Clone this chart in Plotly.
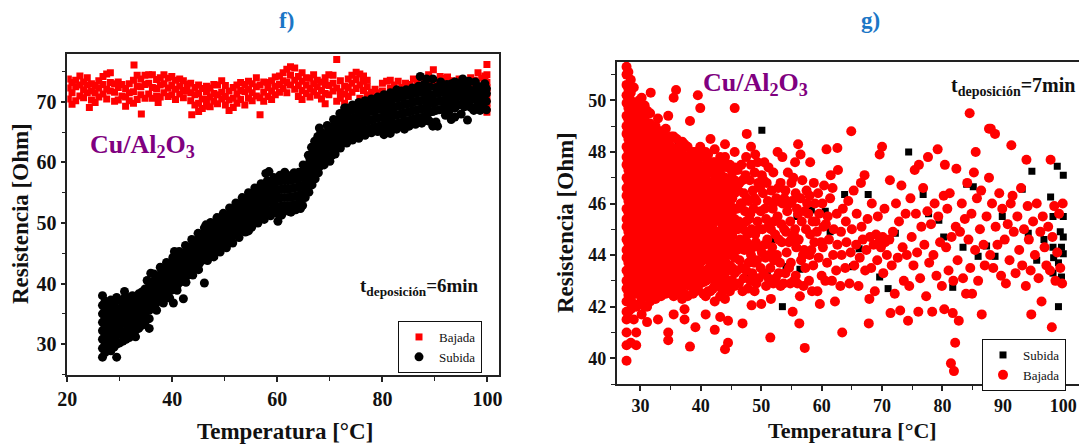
import plotly.graph_objects as go

# ---------------- panel f) : t_deposicion = 6 min ----------------
# (temperature, [resistances...]) columns
f_bajada_cols = [
    (20.2, [70.5, 72.3, 73.8]), (20.9, [69.6, 71.5, 73.2]), (21.6, [70.2, 72.5, 73.6]),
    (22.4, [71.0, 72.8, 74.3]), (23.1, [70.7, 72.0, 73.3]), (23.8, [71.5, 72.8, 74.0]),
    (24.2, [69.1]), (24.6, [70.3, 71.8, 73.0]), (25.3, [69.9, 71.5, 72.7]),
    (26.0, [70.8, 72.3, 73.5]), (26.8, [71.3, 72.9, 74.2]), (27.5, [70.5, 72.1, 74.6]),
    (28.2, [71.8, 73.2, 74.8]), (29.0, [70.1, 71.6, 73.0]), (29.7, [70.3, 72.4, 73.3]),
    (30.4, [71.0, 72.9]), (31.1, [69.3, 70.8, 72.2]), (31.8, [70.2, 71.5, 73.0]),
    (32.6, [69.8, 71.7, 73.6]), (32.7, [76.1]), (33.3, [70.4, 72.6, 74.4]),
    (34.0, [71.2, 72.5, 73.8]), (34.1, [68.0]), (34.8, [70.6, 72.9, 74.4]),
    (35.5, [71.3, 73.1, 74.5]), (36.2, [70.6, 72.4, 74.5]), (37.0, [71.0, 72.2, 73.7]),
    (37.3, [69.9]), (37.7, [70.8, 72.8, 74.0]), (38.4, [71.5, 73.0, 74.5]),
    (39.2, [70.9, 72.3, 73.9]), (39.9, [71.2, 72.7, 74.2]), (40.6, [70.4, 72.1, 73.6]),
    (41.4, [71.3, 72.6, 73.8]), (42.1, [70.7, 71.9, 73.5]), (42.8, [71.8, 72.9]),
    (43.5, [70.2, 71.5, 73.1]), (43.7, [67.9]), (44.3, [69.5, 71.2, 72.4]),
    (45.0, [68.4, 69.8, 71.4, 72.8]), (45.7, [68.9, 70.5, 72.2]), (46.5, [69.3, 70.4, 71.7, 72.6]),
    (47.2, [69.2, 70.8, 72.3]), (47.9, [70.1, 71.4, 72.9]), (48.6, [69.7, 71.2, 72.8]),
    (49.4, [70.5, 71.6, 73.5]), (50.1, [69.5, 70.9, 72.7]), (50.8, [68.6, 70.3, 71.8]),
    (51.6, [69.1, 70.6, 72.4]), (52.3, [69.8, 71.3, 72.8]), (53.0, [70.4, 71.9, 73.2]),
    (53.8, [69.5, 71.7, 72.9]), (54.5, [70.6, 72.1, 73.4]), (55.2, [70.2, 71.5, 73.0]),
    (56.0, [71.0, 72.5, 74.0]), (56.7, [67.9, 70.7, 72.8]), (57.4, [70.1, 71.6, 73.3]),
    (58.2, [70.9, 72.4, 73.2]), (58.9, [70.4, 71.8, 73.5]), (59.6, [71.2, 72.6, 74.1]),
    (60.4, [71.6, 72.9, 74.3]), (61.1, [72.2, 73.5, 74.8]), (61.8, [71.5, 73.2, 75.4]),
    (62.5, [72.8, 74.4, 75.8]), (63.3, [72.1, 73.6, 75.6]), (64.0, [70.9, 72.7, 74.2]),
    (64.7, [70.4, 71.9, 73.4, 74.8]), (65.5, [71.4, 72.8, 74.0]), (66.2, [70.8, 72.2, 73.9]),
    (66.9, [71.7, 73.0, 74.5]), (67.6, [71.1, 72.5, 73.6]), (68.4, [70.5, 71.9, 73.3]),
    (69.1, [69.7, 71.4, 72.9, 74.0]), (69.8, [71.2, 72.7, 74.5]), (70.6, [71.8, 73.1, 74.4]),
    (71.3, [70.1, 72.3, 77.0]), (72.0, [70.6, 71.7, 73.5]), (72.8, [69.8, 71.3, 72.6]),
    (73.5, [70.9, 72.4, 73.8]), (74.2, [71.6, 73.1, 74.4]), (75.0, [72.2, 73.7, 74.9]),
    (75.7, [70.6, 72.8, 74.6]), (76.4, [71.9, 73.4, 74.3]), (77.1, [71.2, 72.5, 73.6]),
    (77.9, [70.2, 71.6]), (78.6, [70.8, 72.1]), (79.3, [70.5, 71.5]), (80.0, [71.8, 73.1]),
    (80.8, [70.4, 73.4]), (81.5, [72.2, 73.6]), (82.2, [72.8]), (83.0, [73.4]),
    (83.7, [72.4]), (84.4, [73.1]), (85.2, [72.9]), (85.9, [73.8, 72.3]),
    (86.6, [71.7, 73.3]), (87.3, [72.5, 74.1]), (88.1, [73.6, 72.1]), (88.8, [73.0, 74.5]),
    (89.7, [75.3, 72.8]), (90.3, [73.4, 72.0]), (91.0, [74.2, 71.6]), (91.7, [73.9, 72.6]),
    (92.4, [74.1, 72.9]), (93.2, [73.5, 71.8]), (93.9, [73.0, 72.2]), (94.6, [72.4, 73.8]),
    (95.3, [71.3, 72.9]), (96.1, [73.4, 72.2]), (96.8, [72.8, 74.0]), (97.5, [73.6, 71.4]),
    (98.2, [74.8, 72.5]), (98.9, [73.9, 72.1, 70.5]), (99.5, [71.8, 73.5, 74.3]),
    (99.9, [76.2, 74.5, 73.2, 72.4, 71.5, 70.6, 69.8, 69.0, 68.3]),
]

f_subida_cols = [
    (26.7, [27.85, 29.3, 30.8, 32.2, 33.6, 35.0, 36.4, 38.0]),
    (27.2, [28.6, 30.0, 31.5, 32.9, 34.3, 35.7, 37.1]),
    (27.7, [29.2, 30.6, 32.0, 33.5, 34.9, 36.3]),
    (28.3, [28.9, 30.3, 31.8, 33.2, 34.6, 36.0, 37.3]),
    (28.9, [29.5, 31.0, 32.4, 33.9, 35.3, 36.7]),
    (29.4, [27.85, 30.0, 31.4, 32.8, 34.2, 35.6, 37.7]),
    (30.0, [30.2, 31.7, 33.1, 34.5, 35.9, 37.2]),
    (30.6, [30.5, 31.9, 33.4, 34.8, 36.2, 37.4]),
    (30.9, [38.7]),
    (31.2, [30.8, 32.2, 33.7, 35.1, 36.5, 37.8]),
    (31.8, [31.1, 32.5, 33.9, 35.3, 36.7, 37.6]),
    (32.4, [31.4, 32.9, 34.3, 35.7, 37.1, 38.0]),
    (33.0, [31.2, 32.3, 33.6, 35.0, 36.4, 37.8]),
    (33.6, [32.6, 34.0, 35.4, 36.8, 38.3]),
    (34.2, [33.1, 34.5, 35.9, 37.3, 38.6]),
    (34.8, [33.6, 35.0, 36.4, 37.8, 39.1]),
    (35.2, [40.5]),
    (35.6, [32.6, 34.2, 35.6, 37.0, 38.4, 39.5]),
    (35.9, [41.7]),
    (36.2, [36.0, 37.4, 38.8, 40.2]),
    (36.8, [36.6, 38.0, 39.4, 40.8]),
    (37.4, [37.1, 38.5, 39.9, 41.3]),
    (38.0, [37.6, 39.0, 40.4, 41.8, 42.3]),
    (38.6, [38.0, 39.4, 40.8, 42.2]),
    (39.2, [38.5, 39.9, 41.3, 42.7]),
    (39.8, [38.9, 40.3, 41.7, 43.1]),
    (40.2, [36.8]),
    (40.4, [39.4, 40.8, 42.2, 43.6, 45.3]),
    (41.0, [39.8, 41.2, 42.6, 44.0]),
    (41.6, [40.3, 41.7, 43.1, 44.5]),
    (42.1, [37.5]),
    (42.2, [40.8, 42.2, 43.6, 45.0]),
    (42.8, [41.3, 42.7, 44.1, 45.5]),
    (43.4, [41.8, 43.2, 44.6, 46.0]),
    (44.0, [42.3, 43.7, 45.1, 46.5]),
    (44.6, [42.8, 44.2, 45.6, 47.0]),
    (45.2, [43.4, 44.8, 46.2, 47.6]),
    (45.8, [43.9, 45.3, 46.7, 48.1]),
    (46.1, [40.1]),
    (46.4, [44.3, 45.7, 47.1, 48.5, 49.7]),
    (47.0, [44.7, 46.1, 47.5, 48.9]),
    (47.6, [45.1, 46.5, 47.9, 49.3]),
    (48.2, [45.5, 46.9, 48.3, 49.7]),
    (48.8, [46.0, 47.4, 48.8, 50.2]),
    (49.4, [46.4, 47.8, 49.2, 50.6]),
    (50.0, [46.7, 48.1, 49.5, 50.9]),
    (50.6, [47.1, 48.5, 49.9, 51.3]),
    (51.2, [47.6, 49.0, 50.4, 51.8]),
    (51.8, [48.0, 49.4, 50.8, 52.2]),
    (52.4, [48.4, 49.8, 51.2, 52.6]),
    (53.0, [48.9, 50.3, 51.7, 53.1]),
    (53.6, [49.3, 50.7, 52.1, 53.5]),
    (54.2, [49.7, 51.1, 52.5, 53.9]),
    (54.5, [48.7]),
    (54.8, [50.1, 51.5, 52.9, 54.3]),
    (55.4, [50.5, 51.9, 53.3, 54.7]),
    (56.0, [50.8, 52.2, 53.6, 55.0]),
    (56.6, [51.1, 52.5, 53.9, 55.3]),
    (57.2, [51.4, 52.8, 54.2, 55.6]),
    (57.8, [51.7, 53.1, 54.5, 55.9, 58.2]),
    (58.4, [52.0, 53.4, 54.8, 56.2, 58.5]),
    (59.0, [52.2, 53.6, 55.0, 56.4]),
    (59.6, [52.5, 53.9, 55.3, 56.7]),
    (60.1, [50.3]),
    (60.2, [52.7, 54.1, 55.5, 56.9]),
    (60.8, [51.3, 52.8, 54.2, 55.6, 57.0]),
    (61.4, [52.8, 54.2, 55.6, 57.0, 58.4]),
    (62.0, [52.8, 54.2, 55.6, 57.0]),
    (62.6, [51.8, 52.9, 54.3, 55.7, 57.1]),
    (63.2, [52.2, 53.0, 54.4, 55.8, 57.2, 58.3]),
    (63.8, [53.1, 54.5, 55.9, 57.3]),
    (64.4, [53.3, 54.7, 56.1, 57.5]),
    (64.8, [52.9, 54.7, 56.1, 57.5, 58.5]),
    (65.6, [55.3, 56.7, 58.1, 59.5]),
    (66.2, [56.2, 57.6, 59.0, 60.4]),
    (66.8, [57.4, 58.8, 60.2, 61.6]),
    (67.4, [58.4, 59.8, 61.2, 62.6]),
    (68.0, [59.3, 60.7, 62.1, 63.5, 65.7]),
    (68.6, [60.0, 61.4, 62.8, 64.2]),
    (69.2, [60.6, 62.0, 63.4, 64.8]),
    (69.8, [61.1, 62.5, 63.9, 65.3]),
    (70.4, [61.2, 63.0, 64.4, 65.8]),
    (71.0, [62.3, 63.7, 65.1, 66.5]),
    (71.6, [62.8, 64.2, 65.6, 67.0]),
    (72.2, [63.3, 64.7, 66.1, 67.5]),
    (72.8, [63.7, 65.1, 66.5, 67.9, 69.0]),
    (73.4, [64.1, 65.5, 66.9, 68.3]),
    (74.0, [64.4, 65.8, 67.2, 68.6]),
    (74.6, [64.6, 66.0, 67.4, 68.8]),
    (75.2, [64.8, 66.2, 67.6, 69.0]),
    (75.8, [65.0, 66.4, 67.8, 69.2]),
    (76.4, [65.2, 66.6, 68.0, 69.3]),
    (77.0, [65.4, 66.8, 68.2, 69.5]),
    (77.6, [65.6, 67.0, 68.4, 69.6]),
    (78.2, [65.7, 67.1, 68.5, 69.8]),
    (78.8, [65.9, 67.3, 68.7, 70.0]),
    (79.4, [66.0, 67.4, 68.8, 70.1, 70.4]),
    (80.0, [66.1, 67.5, 68.9, 70.2]),
    (80.6, [65.2, 66.6, 68.0, 69.4, 70.6]),
    (81.2, [65.5, 66.8, 68.2, 69.6, 70.8]),
    (81.8, [66.2, 67.6, 69.0, 70.4]),
    (82.4, [66.4, 67.8, 69.2, 70.6, 71.5]),
    (83.0, [66.5, 67.9, 69.3, 70.7]),
    (83.6, [66.6, 68.0, 69.4, 70.8, 71.8]),
    (84.2, [65.5, 66.8, 68.2, 69.6, 71.0]),
    (84.8, [66.9, 68.3, 69.7, 71.1]),
    (85.4, [67.0, 68.4, 69.8, 71.2]),
    (86.0, [67.2, 68.6, 70.0, 71.4]),
    (86.6, [67.3, 68.7, 70.1, 71.5, 72.1]),
    (87.2, [67.4, 68.8, 70.2, 71.6, 74.2]),
    (87.8, [67.5, 68.9, 70.3, 71.7, 72.8]),
    (88.4, [67.7, 69.1, 70.5, 71.9, 73.8]),
    (89.0, [66.8, 68.3, 69.7, 71.1, 72.5]),
    (89.6, [66.0, 68.4, 69.8, 71.2, 73.8]),
    (90.2, [66.7, 68.6, 70.0, 71.4, 72.4]),
    (90.8, [68.7, 70.1, 71.5]),
    (91.4, [68.8, 70.2, 71.6, 72.6]),
    (92.0, [67.8, 69.0, 70.4, 71.8]),
    (92.6, [68.2, 69.4, 70.8, 72.1]),
    (93.2, [69.3, 70.6, 72.0, 73.0]),
    (93.8, [67.5, 69.0, 70.4, 71.8, 73.3]),
    (94.4, [69.5, 70.9, 72.3]),
    (95.0, [68.0, 69.6, 71.0, 72.4]),
    (95.6, [69.2, 70.6, 71.8, 73.3]),
    (96.2, [67.0, 69.7, 71.1, 72.5]),
    (96.8, [69.1, 70.3, 71.7]),
    (97.4, [68.6, 70.5, 71.9]),
    (98.0, [69.3, 70.6, 71.8, 72.6]),
    (98.6, [68.6, 70.0, 71.4, 72.5]),
    (99.2, [69.1, 70.5, 71.8]),
    (99.8, [68.7, 70.1, 71.4, 72.2]),
]

# ragged points along the lower and upper edges of the "Subida" band
f_subida_edges = [
    (37.0, 35.6), (38.3, 36.8), (39.5, 37.6), (40.9, 38.9), (42.6, 40.2), (43.9, 41.4),
    (45.0, 42.3), (46.7, 43.8), (47.9, 44.4), (49.1, 45.2), (50.3, 45.9), (51.5, 46.7),
    (52.7, 47.6), (53.9, 48.5), (55.1, 49.3), (56.3, 50.0), (57.5, 50.6), (58.7, 51.2),
    (59.9, 51.6), (61.1, 51.8), (62.3, 51.9), (63.5, 52.2), (64.4, 52.4), (65.3, 54.2),
    (66.0, 55.1), (66.6, 56.3), (67.2, 57.3), (67.8, 58.3), (68.9, 59.6), (70.0, 60.2),
    (71.0, 61.4), (72.0, 62.4), (73.2, 63.2), (74.3, 63.7), (75.5, 64.0), (76.7, 64.5),
    (77.9, 64.9), (79.1, 65.1), (80.3, 64.6), (81.5, 64.8), (82.7, 65.5), (83.9, 65.8),
    (85.1, 66.0), (86.3, 66.3), (87.5, 66.5), (88.7, 66.9), (90.5, 66.0), (93.1, 67.1),
    (36.5, 41.6), (37.7, 42.7), (38.9, 43.5), (40.1, 44.3), (41.3, 45.3), (42.5, 46.3),
    (43.7, 47.3), (44.9, 48.3), (46.1, 49.2), (47.3, 50.1), (48.5, 50.9), (49.7, 51.6),
    (50.9, 52.5), (52.1, 53.3), (53.3, 54.2), (54.5, 55.0), (55.7, 55.8), (56.9, 56.5),
    (58.1, 57.0), (59.3, 57.5), (60.5, 57.9), (61.7, 58.0), (62.9, 58.0), (64.1, 58.4),
    (64.9, 59.6), (65.9, 61.2), (66.5, 62.5), (67.1, 63.5), (67.7, 64.3), (68.3, 65.0),
    (69.5, 66.1), (70.7, 67.1), (71.9, 68.1), (73.1, 69.0), (74.3, 69.5), (75.5, 69.9),
    (76.7, 70.2), (77.9, 70.5), (79.1, 70.8), (80.3, 71.2), (81.5, 71.5), (82.7, 72.0),
    (84.5, 72.0), (85.7, 72.3), (86.9, 72.6), (88.1, 72.8), (91.1, 73.3), (92.3, 72.9),
    (94.1, 73.1), (95.3, 73.8), (96.5, 73.4), (97.7, 73.3), (99.5, 73.0),
]

# ---------------- panel g) : t_deposicion = 7 min ----------------
g_bajada_cols = [
    (27.7, [39.9, 40.5, 41.0, 41.5, 41.8, 42.2, 42.7, 43.0, 43.4, 43.9, 44.2, 44.6, 45.1, 45.4, 45.8,
            46.3, 46.6, 47.0, 47.5, 47.8, 48.2, 48.7, 49.0, 49.4, 49.9, 50.2, 50.6, 51.0, 51.3]),
    (28.0, [41.8, 42.45, 42.9, 43.25, 43.7, 44.1, 44.45, 44.9, 45.3, 45.65, 46.1, 46.5, 46.85, 47.3,
            47.7, 48.05, 48.5, 48.9, 49.25, 49.7, 50.1, 50.45, 51.1]),
    (28.4, [40.6, 41.9, 42.3, 42.8, 43.1, 43.5, 44.0, 44.3, 44.7, 45.2, 45.5, 45.9, 46.4, 46.7, 47.1,
            47.6, 47.9, 48.3, 48.8, 49.1, 49.5, 50.0, 50.3, 50.8]),
    (28.9, [41.5, 42.1, 42.55, 42.95, 43.4, 43.8, 44.2, 44.6, 45.0, 45.4, 45.8, 46.2, 46.6, 47.0, 47.4,
            47.8, 48.2, 48.6, 49.0, 49.4, 49.8, 50.5]),
    (29.3, [40.5, 41.0, 42.0, 42.5, 42.8, 43.2, 43.7, 44.0, 44.4, 44.9, 45.2, 45.6, 46.1, 46.4, 46.8,
            47.3, 47.6, 48.0, 48.5, 48.8, 49.2, 49.7]),
    (29.8, [42.1, 42.7, 43.0, 43.45, 43.9, 44.25, 44.65, 45.05, 45.45, 45.85, 46.25, 46.6, 47.0, 47.45,
            47.85, 48.2, 48.65, 49.05, 49.45, 50.0]),
    (30.2, [41.7, 42.3, 42.6, 43.1, 43.5, 43.8, 44.3, 44.7, 45.0, 45.5, 45.9, 46.2, 46.7, 47.1, 47.4,
            47.9, 48.3, 48.6, 49.1, 49.7, 50.1]),
    (30.7, [42.0, 42.45, 42.85, 43.3, 43.7, 44.05, 44.5, 44.85, 45.25, 45.7, 46.05, 46.45, 46.9, 47.25,
            47.65, 48.1, 48.45, 48.85, 49.3, 49.8]),
    (31.1, [41.4, 42.0, 42.5, 42.9, 43.2, 43.7, 44.1, 44.4, 44.9, 45.3, 45.6, 46.1, 46.5, 46.8, 47.3,
            47.7, 48.0, 48.5, 48.9, 49.6]),
    (31.6, [42.2, 42.7, 43.05, 43.45, 43.9, 44.3, 44.65, 45.1, 45.45, 45.85, 46.3, 46.65, 47.05, 47.5,
            47.85, 48.25, 48.7, 49.1, 49.5]),
    (31.7, [50.3]),
    (32.0, [42.4, 42.8, 43.3, 43.6, 44.0, 44.5, 44.8, 45.2, 45.7, 46.0, 46.4, 46.9, 47.2, 47.6, 48.1,
            48.4, 48.9]),
    (32.5, [42.3, 42.6, 43.1, 43.5, 43.9, 44.3, 44.7, 45.1, 45.5, 45.9, 46.3, 46.7, 47.1, 47.5, 47.9,
            48.3, 48.7, 49.0]),
    (32.9, [41.5, 42.6, 42.9, 43.4, 43.8, 44.1, 44.6, 45.0, 45.3, 45.8, 46.2, 46.5, 47.0, 47.4, 47.7,
            48.2, 48.6, 49.3]),
    (33.4, [42.4, 42.75, 43.15, 43.55, 43.95, 44.35, 44.75, 45.15, 45.55, 45.95, 46.35, 46.75, 47.15,
            47.55, 47.95, 48.35, 48.8]),
    (33.8, [42.5, 43.0, 43.3, 43.7, 44.2, 44.5, 44.9, 45.4, 45.7, 46.1, 46.6, 46.9, 47.3, 47.8, 48.1, 48.6]),
    (34.2, [42.5, 42.9, 43.35, 43.75, 44.1, 44.55, 44.95, 45.3, 45.75, 46.15, 46.5, 46.95, 47.35, 47.7,
            48.15, 48.55, 48.9]),
    (34.6, [40.7, 41.0, 42.7, 43.1, 43.6, 43.9, 44.3, 44.8, 45.1, 45.5, 46.0, 46.3, 46.7, 47.2, 47.5,
            47.9, 48.4, 49.4]),
    (35.1, [42.6, 43.0, 43.4, 43.8, 44.25, 44.6, 45.0, 45.45, 45.8, 46.2, 46.65, 47.0, 47.4, 47.85,
            48.2, 48.6]),
    (35.5, [41.7, 42.4, 42.9, 43.2, 43.6, 44.1, 44.4, 44.8, 45.3, 45.6, 46.0, 46.5, 46.8, 47.2, 47.7,
            48.0, 48.6, 50.1]),
    (35.9, [50.4]),
    (36.0, [42.5, 42.8, 43.25, 43.65, 44.0, 44.45, 44.85, 45.2, 45.65, 46.05, 46.4, 46.85, 47.25, 47.6,
            48.05, 48.5]),
    (36.4, [42.6, 43.0, 43.5, 43.8, 44.2, 44.7, 45.0, 45.4, 45.9, 46.2, 46.6, 47.1, 47.4, 47.9, 48.2]),
    (36.9, [42.3, 42.75, 43.1, 43.55, 43.95, 44.3, 44.75, 45.15, 45.5, 45.95, 46.35, 46.7, 47.15, 47.55,
            47.95, 48.4]),
    (37.3, [41.5, 41.9, 42.5, 42.9, 43.3, 43.7, 44.2, 44.5, 44.9, 45.4, 45.7, 46.1, 46.6, 46.9, 47.3,
            47.8, 48.3]),
    (37.8, [42.4, 42.95, 43.35, 43.75, 44.15, 44.55, 44.95, 45.35, 45.75, 46.15, 46.55, 46.95, 47.35,
            47.75, 48.2]),
    (38.2, [40.45, 42.8, 43.1, 43.5, 44.0, 44.3, 44.7, 45.2, 45.5, 45.9, 46.4, 46.7, 47.1, 47.6, 47.9, 49.2]),
    (38.7, [42.5, 42.9, 43.3, 43.7, 44.1, 44.5, 44.9, 45.3, 45.7, 46.1, 46.5, 46.9, 47.3, 47.7, 48.0]),
    (39.1, [41.2, 42.6, 43.0, 43.4, 43.9, 44.2, 44.6, 45.1, 45.4, 45.8, 46.3, 46.6, 47.0, 47.5, 48.0]),
    (39.5, [42.7, 43.15, 43.55, 43.95, 44.35, 44.75, 45.15, 45.55, 45.95, 46.35, 46.75, 47.15, 47.55,
            47.9, 50.2]),
    (39.9, [42.9, 43.3, 43.7, 44.1, 44.6, 44.9, 45.3, 45.8, 46.1, 46.5, 47.0, 47.3, 47.8, 48.2, 49.7]),
    (40.4, [42.5, 42.95, 43.35, 43.8, 44.2, 44.6, 45.0, 45.4, 45.85, 46.25, 46.65, 47.05, 47.45, 47.8]),
    (40.8, [41.7, 42.4, 43.0, 43.4, 43.9, 44.3, 44.7, 45.2, 45.6, 46.1, 46.5, 47.0, 47.4, 48.0]),
    (41.2, [42.6, 43.05, 43.45, 43.85, 44.3, 44.75, 45.15, 45.55, 45.95, 46.35, 46.75, 47.2, 47.6, 47.9]),
    (41.6, [42.6, 43.2, 43.6, 44.1, 44.6, 45.0, 45.5, 45.9, 46.4, 46.8, 47.3, 48.5]),
    (42.0, [42.7, 43.1, 43.5, 43.9, 44.35, 44.8, 45.2, 45.6, 46.0, 46.45, 46.85, 47.25, 47.6]),
    (42.3, [41.1, 42.2, 42.8, 43.3, 43.8, 44.2, 44.7, 45.3, 45.7, 46.2, 46.6, 47.1, 47.6, 48.1]),
    (42.8, [42.8, 43.2, 43.6, 44.05, 44.45, 44.9, 45.5, 45.95, 46.4, 46.8, 47.5]),
    (43.2, [41.6, 42.4, 42.9, 43.5, 44.0, 44.5, 44.9, 45.4, 45.9, 46.3, 46.9, 47.3, 47.8]),
    (43.6, [42.6, 43.1, 43.7, 44.2, 44.7, 45.15, 45.6, 46.1, 46.6, 47.05, 47.6]),
    (44.0, [40.35, 42.3, 42.7, 43.3, 43.8, 44.3, 44.8, 45.2, 45.6, 46.2, 46.7, 47.0, 47.8, 48.3]),
    (44.4, [42.9, 43.4, 44.0, 44.55, 45.0, 45.45, 45.9, 46.45, 46.95, 47.4]),
    (44.5, [40.6, 41.45]),
    (44.8, [42.6, 43.0, 43.6, 44.1, 44.5, 45.0, 45.5, 46.0, 46.5, 46.9, 47.5]),
    (45.2, [43.0, 43.5, 44.2, 44.75, 45.25, 45.7, 46.2, 46.7, 47.2]),
    (45.6, [42.8, 43.3, 43.9, 44.4, 45.0, 45.4, 45.8, 46.4, 46.9, 47.4, 48.0, 49.7]),
]

g_bajada_pts = [
    (46.3, 42.9), (46.4, 43.8), (46.5, 44.6), (46.3, 45.3), (46.6, 46.0), (46.4, 46.8), (46.7, 47.5),
    (46.9, 41.35), (47.1, 43.1), (47.2, 44.2), (47.0, 45.0), (47.3, 45.7), (47.1, 46.4), (47.4, 47.1),
    (47.6, 48.7), (47.8, 42.7), (47.9, 43.7), (47.7, 44.8), (48.0, 45.4), (47.9, 46.1), (48.1, 46.9),
    (48.3, 48.2), (48.5, 43.3), (48.6, 44.3), (48.4, 45.0), (48.7, 45.8), (48.6, 46.5), (48.9, 47.2),
    (48.4, 42.05), (49.2, 42.9), (49.3, 43.8), (49.1, 44.5), (49.4, 45.3), (49.2, 46.1), (49.5, 46.8),
    (49.4, 47.6), (50.0, 42.1), (49.9, 43.5), (50.1, 44.1), (50.2, 45.0), (49.9, 45.7), (50.3, 46.4),
    (50.1, 47.1), (50.8, 42.8), (50.7, 43.9), (51.0, 44.6), (50.8, 45.4), (51.1, 46.1), (50.9, 46.8),
    (51.6, 42.3), (51.5, 40.8), (51.5, 43.5), (51.8, 44.3), (51.6, 45.0), (51.9, 45.8), (51.7, 46.5),
    (52.0, 47.2), (52.4, 43.1), (52.6, 44.0), (52.3, 44.8), (52.7, 45.5), (52.5, 46.2), (52.7, 48.0),
    (53.2, 42.8), (53.1, 43.7), (53.4, 44.5), (53.3, 45.2), (53.5, 46.0), (53.2, 46.8), (53.5, 47.8),
    (54.0, 43.3), (54.2, 44.1), (54.1, 44.9), (54.3, 45.7), (54.0, 46.5), (54.4, 47.2), (54.8, 42.9),
    (54.9, 43.7), (55.0, 44.6), (54.8, 45.3), (55.1, 46.1), (55.0, 46.8), (55.2, 41.8), (55.6, 47.6),
    (55.7, 43.2), (55.8, 44.3), (55.6, 45.0), (55.9, 45.8), (55.7, 46.4), (56.1, 48.3), (56.5, 47.9),
    (56.3, 41.35), (56.4, 42.4), (56.6, 43.8), (56.2, 44.6), (56.7, 45.3), (56.5, 46.2), (56.8, 46.9),
    (57.2, 40.4), (57.0, 42.8), (57.3, 43.5), (57.1, 44.2), (57.4, 45.0), (57.2, 45.7), (57.5, 46.5),
    (57.9, 43.0), (58.0, 44.0), (58.1, 44.8), (57.8, 45.6), (58.1, 47.6), (58.0, 46.3), (58.6, 43.6),
    (58.8, 44.5), (58.5, 45.3), (58.9, 46.0), (58.7, 46.8), (59.3, 42.6), (59.5, 43.9), (59.2, 44.9),
    (59.6, 45.6), (59.4, 46.4), (59.7, 42.1), (60.0, 43.2), (60.2, 44.3), (60.3, 45.1), (60.1, 46.0),
    (60.4, 46.7), (60.8, 48.1), (60.9, 43.7), (61.2, 44.6), (61.0, 45.5), (61.4, 46.2), (61.7, 43.0),
    (61.9, 44.0), (62.0, 45.0), (61.8, 46.6), (62.2, 42.2), (62.4, 43.4), (62.6, 44.4), (62.5, 45.6),
    (62.6, 48.15), (62.7, 47.3), (63.1, 42.8), (63.3, 44.0), (63.2, 44.9), (63.4, 41.0), (63.5, 45.8),
    (63.9, 43.5), (64.1, 44.5), (64.0, 45.3), (64.4, 46.1), (64.6, 42.9), (64.8, 44.1), (64.9, 48.8),
    (65.0, 45.0), (65.3, 46.5), (65.4, 43.6), (65.7, 44.4), (65.8, 45.6), (66.1, 42.8), (66.3, 43.9),
    (66.6, 45.1), (66.5, 46.8), (66.8, 44.6), (67.1, 47.1), (67.2, 43.4), (67.4, 44.2), (67.8, 41.35),
    (67.6, 45.4), (67.9, 42.3), (68.0, 44.7), (68.2, 43.5), (68.3, 46.0), (68.6, 44.4), (68.8, 42.6),
    (69.0, 44.8), (69.2, 43.8), (69.3, 45.5), (69.6, 47.9), (69.5, 44.5), (69.8, 44.3), (70.0, 48.2),
    (70.1, 44.7), (70.2, 43.3), (70.4, 45.8), (70.5, 44.5), (70.8, 44.0), (71.2, 44.6), (71.4, 41.75),
    (71.3, 46.9), (71.6, 43.6), (71.8, 44.9), (72.1, 42.5), (72.3, 46.0), (72.6, 43.9), (72.8, 45.3),
    (73.0, 41.85), (73.2, 46.7), (73.4, 44.3), (73.6, 43.0), (73.9, 45.6), (74.1, 44.0), (74.3, 41.45),
    (74.5, 42.8), (74.7, 46.2), (74.9, 44.7), (75.2, 43.6), (75.4, 47.3), (75.6, 45.6), (75.8, 44.1),
    (76.0, 41.8), (76.1, 47.5), (76.3, 43.1), (76.5, 45.1), (76.8, 46.6), (77.0, 44.4), (77.3, 42.4),
    (77.6, 47.8), (77.5, 45.7), (77.8, 43.7), (78.1, 45.2), (78.3, 41.8), (78.5, 44.0), (78.7, 46.0),
    (79.0, 43.2), (79.2, 48.1), (79.3, 45.5), (79.6, 44.5), (79.9, 42.8), (80.3, 41.9), (80.4, 47.5),
    (80.2, 46.3), (80.6, 44.3), (80.8, 45.8), (81.0, 43.4), (81.2, 46.4), (81.4, 39.8), (81.5, 44.7),
    (81.7, 41.75), (81.9, 39.5), (81.8, 43.0), (82.1, 40.6), (82.3, 47.35), (82.2, 45.1), (82.5, 43.8),
    (82.7, 41.45), (82.9, 44.9), (83.2, 46.0), (83.4, 43.1), (83.7, 45.4), (83.9, 42.5), (84.1, 46.8),
    (84.3, 44.6), (84.5, 49.5), (84.6, 43.5), (84.8, 45.6), (84.9, 42.5), (85.2, 47.2), (85.5, 48.0),
    (85.4, 44.2), (85.7, 46.2), (85.9, 43.0), (86.2, 45.0), (86.5, 41.7), (86.4, 46.5), (86.8, 44.4),
    (87.0, 43.6), (87.3, 45.5), (87.7, 48.9), (87.7, 47.0), (87.9, 44.0), (88.0, 48.9), (88.2, 46.0),
    (88.4, 43.5), (88.7, 48.7), (88.8, 45.1), (89.1, 44.4), (89.4, 46.4), (89.7, 43.2), (89.9, 45.8),
    (90.3, 44.6), (90.5, 42.9), (90.8, 45.2), (91.1, 43.8), (91.4, 48.26), (91.3, 46.0), (91.6, 46.3),
    (91.8, 44.9), (92.1, 43.3), (92.4, 45.5), (92.7, 44.2), (93.0, 46.6), (93.2, 43.6), (93.5, 45.0),
    (93.9, 47.7), (93.8, 42.8), (94.1, 45.9), (94.3, 44.6), (94.7, 41.7), (94.6, 43.4), (95.0, 45.3),
    (95.3, 44.0), (95.6, 46.0), (95.9, 43.1), (96.2, 44.9), (96.4, 42.2), (96.6, 45.5), (96.9, 44.3),
    (97.2, 43.6), (97.5, 45.1), (97.9, 47.7), (97.8, 43.4), (98.1, 41.2), (98.2, 44.7), (98.5, 45.9),
    (98.7, 43.0), (99.0, 44.1), (99.3, 45.6), (99.5, 43.5), (99.8, 42.9), (99.9, 46.0),
    (46.0, 43.4), (46.0, 44.2), (46.1, 45.0), (46.0, 45.8), (46.2, 46.5), (46.1, 47.3), (46.9, 42.6),
    (46.8, 43.5), (46.9, 44.4), (46.7, 45.2), (46.8, 46.0), (46.9, 46.9), (47.5, 43.4), (47.6, 44.5),
    (47.5, 45.3), (47.6, 46.2), (47.5, 47.8), (48.2, 43.0), (48.3, 44.0), (48.1, 44.9), (48.2, 45.6),
    (48.3, 47.5), (48.9, 42.6), (48.8, 43.7), (49.0, 44.8), (48.9, 46.2), (49.0, 47.9), (49.6, 43.1),
    (49.7, 44.3), (49.6, 45.0), (49.8, 46.6), (50.4, 43.3), (50.5, 44.4), (50.6, 45.8), (50.4, 46.9),
    (50.5, 47.6), (51.2, 43.1), (51.3, 44.0), (51.3, 45.2), (51.2, 47.4), (52.0, 42.9), (52.1, 43.8),
    (52.1, 45.3), (52.0, 46.0), (52.9, 43.3), (52.9, 44.6), (52.8, 46.6), (53.7, 42.9), (53.8, 45.0),
    (53.8, 46.2), (54.6, 43.5), (54.6, 44.5), (54.7, 46.0), (55.4, 43.0), (55.4, 44.8), (55.3, 47.0),
    (56.0, 42.9), (56.1, 45.6), (56.9, 44.0), (57.6, 46.0), (58.4, 42.6), (58.3, 44.2), (59.0, 45.3),
    (59.9, 44.5), (60.6, 43.0), (60.7, 45.2), (61.5, 47.1),
]

g_subida_pts = [
    (30.0, 45.0), (32.0, 44.0), (29.0, 46.5), (34.0, 42.5), (36.3, 48.28), (38.6, 42.8),
    (46.3, 44.3), (48.1, 43.25), (50.1, 48.84), (51.0, 43.2), (51.8, 44.6), (53.5, 42.0),
    (54.1, 43.55), (55.9, 45.5), (56.4, 43.45), (58.3, 45.75), (60.6, 45.7), (61.4, 44.9),
    (63.8, 46.35), (65.1, 43.55), (66.2, 44.25), (67.7, 46.35), (69.6, 43.15), (71.0, 42.7),
    (72.2, 44.85), (74.4, 48.0), (76.8, 46.35), (77.7, 45.6), (79.4, 45.35), (80.2, 44.7),
    (81.7, 42.75), (83.4, 44.3), (84.0, 46.75), (85.1, 46.65), (85.9, 43.95), (87.3, 44.35),
    (88.7, 43.95), (89.9, 45.5), (93.2, 46.55), (93.5, 45.0), (94.2, 44.85), (94.8, 47.25),
    (95.6, 43.8), (96.8, 44.6), (97.9, 46.25), (98.3, 45.5), (98.3, 44.3), (98.4, 43.9),
    (98.3, 43.3), (99.0, 47.45), (99.2, 43.7), (99.2, 42.0), (99.5, 44.9), (99.7, 44.3),
    (99.7, 43.15), (100.0, 47.1), (100.0, 45.5), (100.0, 44.05), (100.0, 44.7),
]


def flatten(cols):
    xs, ys = [], []
    for t, rs in cols:
        for r in rs:
            xs.append(t)
            ys.append(r)
    return xs, ys


fb_x, fb_y = flatten(f_bajada_cols)
fs_x, fs_y = flatten(f_subida_cols)
fs_x += [p[0] for p in f_subida_edges]
fs_y += [p[1] for p in f_subida_edges]
gb_x, gb_y = flatten(g_bajada_cols)
gb_x += [p[0] for p in g_bajada_pts]
gb_y += [p[1] for p in g_bajada_pts]
gs_x = [p[0] for p in g_subida_pts]
gs_y = [p[1] for p in g_subida_pts]

SERIF = "Liberation Serif, Times New Roman, serif"
RED = "#FF0000"
BLACK = "#000000"
W, H = 1079, 445

fig = go.Figure()
fig.add_trace(go.Scatter(x=fb_x, y=fb_y, mode="markers", name="Bajada",
                         marker=dict(symbol="square", size=7, color=RED, line=dict(width=0)),
                         xaxis="x", yaxis="y", legend="legend"))
fig.add_trace(go.Scatter(x=fs_x, y=fs_y, mode="markers", name="Subida",
                         marker=dict(symbol="circle", size=9, color=BLACK, line=dict(width=0)),
                         xaxis="x", yaxis="y", legend="legend"))
fig.add_trace(go.Scatter(x=gs_x, y=gs_y, mode="markers", name="Subida",
                         marker=dict(symbol="square", size=7, color=BLACK, line=dict(width=0)),
                         xaxis="x2", yaxis="y2", legend="legend2"))
fig.add_trace(go.Scatter(x=gb_x, y=gb_y, mode="markers", name="Bajada",
                         marker=dict(symbol="circle", size=10, color=RED, line=dict(width=0)),
                         xaxis="x2", yaxis="y2", legend="legend2"))

LINE = "#222222"


def ax(domain, rng, dtick, tick0, minor, size, mirror, anchor):
    return dict(domain=domain, range=rng, dtick=dtick, tick0=tick0, anchor=anchor,
                showline=True, linecolor=LINE, linewidth=1.5, mirror=mirror,
                ticks="outside", ticklen=5, tickwidth=1.5, tickcolor=LINE,
                minor=dict(dtick=minor, tick0=tick0, ticks="outside", ticklen=4,
                           tickwidth=1.2, tickcolor=LINE, showgrid=False),
                showgrid=False, zeroline=False, automargin=False,
                ticklabeloverflow="allow",
                tickfont=dict(family=SERIF, size=size, color="#111111", weight="bold"))


def px_x(p):
    return p / W


def px_y(p):
    return 1 - p / H


fig.update_layout(
    width=W, height=H, margin=dict(l=0, r=0, t=0, b=0, autoexpand=False),
    paper_bgcolor="white", plot_bgcolor="white",
    xaxis=ax([px_x(67.3), px_x(499)], [20, 102.2], 20, 20, 10, 20, True, "y"),
    yaxis=ax([px_y(375), px_y(53.5)], [24.9, 78.0], 10, 30, 5, 20, True, "x"),
    xaxis2=ax([px_x(616.7), 1.0], [26.07, 102.6], 10, 30, 5, 18, True, "y2"),
    yaxis2=ax([px_y(384), px_y(61.7)], [39.0, 51.5], 2, 40, 1, 18, False, "x2"),
    legend=dict(x=px_x(482), y=px_y(321), xanchor="right", yanchor="top",
                bordercolor="#111111", borderwidth=1, bgcolor="white",
                font=dict(family=SERIF, size=13, color="#111111"), itemwidth=30,
                tracegroupgap=0),
    legend2=dict(x=px_x(1066), y=px_y(339), xanchor="right", yanchor="top",
                 bordercolor="#111111", borderwidth=1, bgcolor="white",
                 font=dict(family=SERIF, size=13, color="#111111"), itemwidth=30,
                 tracegroupgap=0),
    showlegend=True,
)

BLUE = "#1B76C6"
PURPLE = "#800080"
ann = []


def text(x, y, s, size, color="#111111", angle=0, xanchor="center", yanchor="middle"):
    ann.append(dict(x=x, y=y, xref="paper", yref="paper", text=s, showarrow=False,
                    font=dict(family=SERIF, size=size, color=color, weight="bold"),
                    textangle=angle, xanchor=xanchor, yanchor=yanchor))


text(px_x(286), px_y(20), "f)", 23, BLUE)
text(px_x(870), px_y(21), "g)", 23, BLUE)
text(px_x(285), px_y(431), "Temperatura [°C]", 23)
text(px_x(852), px_y(430), "Temperatura [°C]", 22)
text(px_x(20), px_y(214), "Resistencia [Ohm]", 23, angle=-90)
text(px_x(565), px_y(223), "Resistencia [Ohm]", 23, angle=-90)
text(px_x(88), px_y(146), "Cu/Al<sub>2</sub>O<sub>3</sub>", 26, PURPLE, xanchor="left")
text(px_x(701), px_y(84), "Cu/Al<sub>2</sub>O<sub>3</sub>", 26, PURPLE, xanchor="left")
text(px_x(481), px_y(287), "t<sub>deposición</sub>=6min", 19, xanchor="right")
text(px_x(1077), px_y(86), "t<sub>deposición</sub>=7min", 20, xanchor="right")

fig.update_layout(annotations=ann)
fig.write_html("out.html")
